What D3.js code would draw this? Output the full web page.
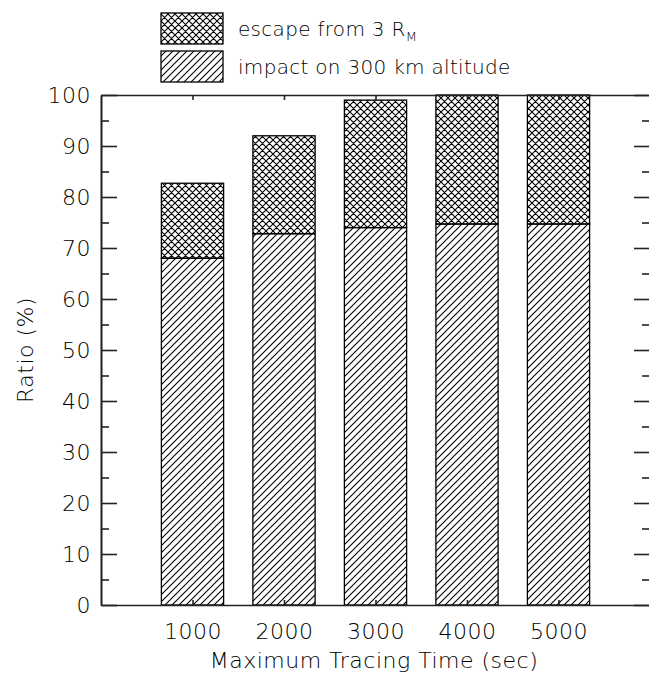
<html>
<script src='https://d3js.org/d3.v7.min.js'></script>
<style>
  body { margin: 0; background: white; }
  text { font-family: "DejaVu Sans", sans-serif; font-weight: 200; fill: #000; }
</style>
<body onload='init()'>
<svg width=649 height=673></svg>
<script>
// data
var times   = [1000, 2000, 3000, 4000, 5000];
var impact  = [68.0, 72.8, 74.0, 74.7, 74.7];
var escape_ = [14.7, 19.2, 25.0, 25.3, 25.3];
var yTicks  = [0, 10, 20, 30, 40, 50, 60, 70, 80, 90, 100];
var yMinor  = [5, 15, 25, 35, 45, 55, 65, 75, 85, 95];
var legendLabels = ["escape from 3 R", "impact on 300 km altitude"];

function init() {
  var svg = d3.select("svg");
  var left = 101, right = 650, top = 95, bottom = 605;

  var x = d3.scaleLinear().domain([0, 6000]).range([left, right]);
  var y = d3.scaleLinear().domain([0, 100]).range([bottom, top]);
  var barW = x(680) - x(0);

  // hatch patterns
  var defs = svg.append("defs");
  var p1 = defs.append("pattern").attr("id", "diag")
      .attr("patternUnits", "userSpaceOnUse").attr("width", 7).attr("height", 7);
  p1.append("path").attr("d", "M-1,1 l2,-2 M0,7 l7,-7 M6,8 l2,-2")
      .attr("stroke", "#000").attr("stroke-width", 1.1);
  var p2 = defs.append("pattern").attr("id", "cross")
      .attr("patternUnits", "userSpaceOnUse").attr("width", 7).attr("height", 7);
  p2.append("path").attr("d", "M-1,1 l2,-2 M0,7 l7,-7 M6,8 l2,-2 M-1,6 l2,2 M0,0 l7,7 M6,-1 l2,2")
      .attr("stroke", "#000").attr("stroke-width", 1.1);

  // bars
  var g = svg.append("g");
  g.selectAll(".imp").data(times).enter().append("rect")
    .attr("x", function(d){ return x(d) - barW/2; })
    .attr("y", function(d, i){ return y(impact[i]); })
    .attr("width", barW)
    .attr("height", function(d, i){ return y(0) - y(impact[i]); })
    .attr("fill", "url(#diag)").attr("stroke", "#000").attr("stroke-width", 1.3);
  g.selectAll(".esc").data(times).enter().append("rect")
    .attr("x", function(d){ return x(d) - barW/2; })
    .attr("y", function(d, i){ return y(impact[i] + escape_[i]); })
    .attr("width", barW)
    .attr("height", function(d, i){ return y(impact[i]) - y(impact[i] + escape_[i]); })
    .attr("fill", "url(#cross)").attr("stroke", "#000").attr("stroke-width", 1.3);

  // axes
  var ax = svg.append("g").attr("class", "axes");
  ax.append("g").attr("transform", "translate(" + left + ",0)")
    .call(d3.axisLeft(y).tickValues(yTicks).tickSize(-16).tickSizeOuter(0).tickPadding(10));
  ax.append("g").attr("transform", "translate(" + left + ",0)")
    .call(d3.axisLeft(y).tickValues(yMinor).tickSize(-8).tickSizeOuter(0).tickFormat(""));
  ax.append("g").attr("transform", "translate(" + right + ",0)")
    .call(d3.axisRight(y).tickValues(yTicks).tickSize(-16).tickSizeOuter(0).tickFormat(""));
  ax.append("g").attr("transform", "translate(" + right + ",0)")
    .call(d3.axisRight(y).tickValues(yMinor).tickSize(-8).tickSizeOuter(0).tickFormat(""));
  ax.append("g").attr("transform", "translate(0," + bottom + ")")
    .call(d3.axisBottom(x).tickValues(times).tickSize(-5).tickSizeOuter(0).tickPadding(18)
      .tickFormat(d3.format("d")));
  ax.append("g").attr("transform", "translate(0," + top + ")")
    .call(d3.axisTop(x).tickValues(times).tickSize(-5).tickSizeOuter(0).tickFormat(""));

  ax.selectAll("path.domain").attr("stroke", "#222").attr("stroke-width", 1.6);
  ax.selectAll(".tick line").attr("stroke", "#222").attr("stroke-width", 1.6);
  ax.selectAll(".tick text").attr("font-size", 22).attr("font-family", "DejaVu Sans")
    .attr("font-weight", 200).attr("fill", "#000").attr("letter-spacing", 0.5);

  // axis titles
  svg.append("text").attr("x", 374).attr("y", 668)
    .attr("text-anchor", "middle").attr("font-size", 22).attr("letter-spacing", 0.5)
    .text("Maximum Tracing Time (sec)");
  svg.append("text").attr("transform", "translate(33," + y(50) + ") rotate(-90)")
    .attr("text-anchor", "middle").attr("font-size", 22).attr("letter-spacing", 0.5)
    .text("Ratio (%)");

  // legend
  var fills = ["url(#cross)", "url(#diag)"];
  var leg = svg.append("g");
  legendLabels.forEach(function(lab, i) {
    var yy = 13 + i * 38;
    leg.append("rect").attr("x", 161).attr("y", yy).attr("width", 62).attr("height", 31)
      .attr("fill", fills[i]).attr("stroke", "#000").attr("stroke-width", 1.3);
    var t = leg.append("text").attr("x", 238).attr("y", yy + 23).attr("font-size", 20)
      .attr("letter-spacing", 0.3).text(lab);
    if (i === 0) t.append("tspan").attr("dy", 5).attr("font-size", 13).text("M");
  });
}
</script>
</body>
</html>
